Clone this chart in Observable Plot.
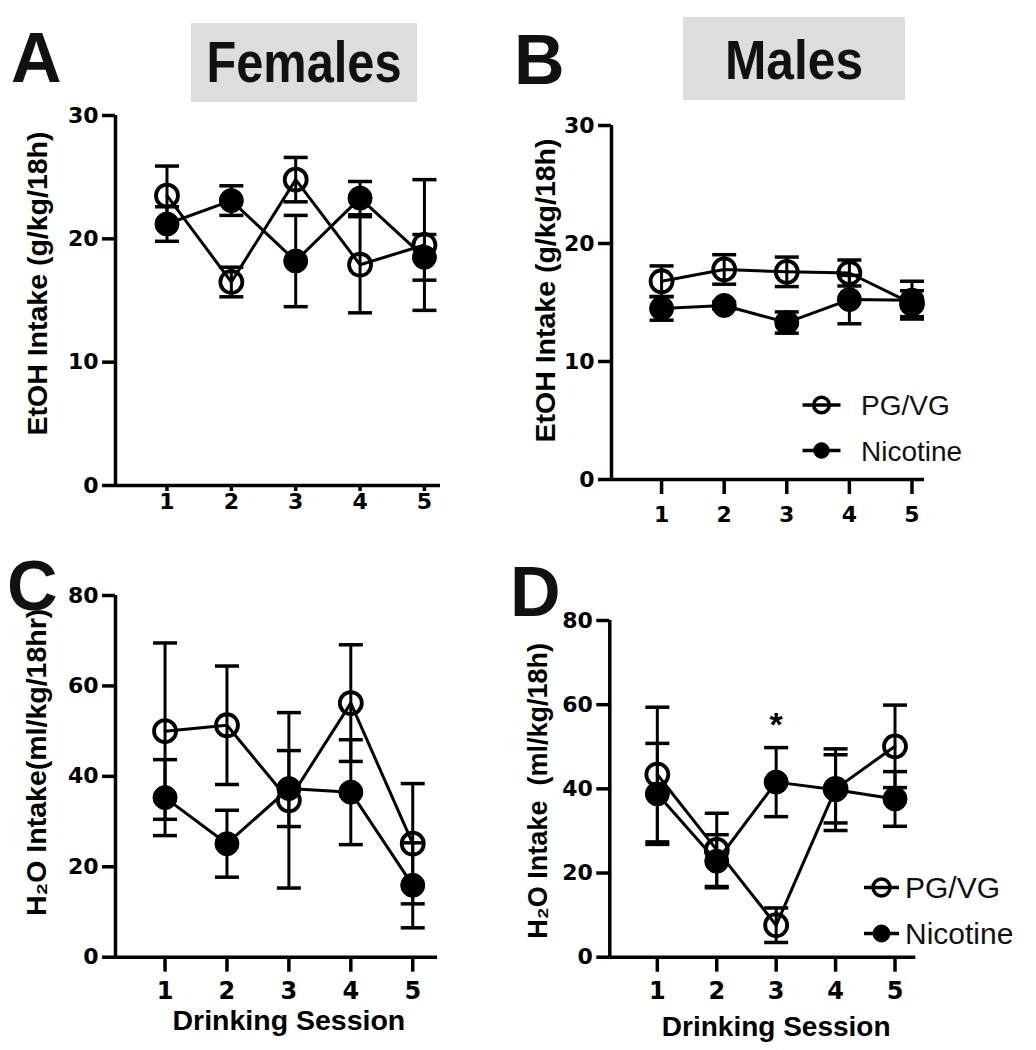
<!DOCTYPE html>
<html><head><meta charset="utf-8">
<script src="https://cdn.jsdelivr.net/npm/d3@7"></script>
<script src="https://cdn.jsdelivr.net/npm/@observablehq/plot@0.6"></script>
<style>
body{margin:0;background:#fff;}
#root{position:relative;width:1036px;height:1050px;overflow:hidden;background:#fff;font-family:"Liberation Sans",Arial,Helvetica,sans-serif;}
#root > svg{position:absolute;}
</style></head><body><div id="root"></div>
<script>
// ---- data ----
const sessions = [1, 2, 3, 4, 5];
const seriesNames = ["PG/VG", "Nicotine"];
const sessionLabel = "Drinking Session";

// A: Females EtOH intake (g/kg/18h)
const femEtohPG = [23.5, 16.5, 24.8, 17.9, 19.5];
const femEtohPGsem = [2.4, 1.2, 1.8, 3.9, 5.3];
const femEtohNic = [21.2, 23.1, 18.2, 23.3, 18.5];
const femEtohNicSem = [1.4, 1.2, 3.7, 1.35, 1.85];

// B: Males EtOH intake (g/kg/18h)
const maleEtohPG = [16.8, 17.8, 17.6, 17.5, 14.9];
const maleEtohPGsem = [1.3, 1.25, 1.25, 1.1, 1.1];
const maleEtohNic = [14.5, 14.75, 13.3, 15.25, 15.2];
const maleEtohNicSem = [1.0, 0.3, 0.9, 2.05, 1.6];

// C: Females H2O intake (ml/kg/18hr)
const femH2OPG = [50.0, 51.3, 34.7, 56.2, 25.1];
const femH2OPGsem = [19.5, 13.1, 19.4, 12.9, 13.3];
const femH2ONic = [35.3, 25.1, 37.3, 36.5, 15.9];
const femH2ONicSem = [8.4, 7.4, 8.4, 11.6, 9.4];

// D: Males H2O intake (ml/kg/18h)
const maleH2OPG = [43.4, 25.5, 7.6, 40.0, 50.1];
const maleH2OPGsem = [16.0, 8.7, 4.1, 8.1, 9.8];
const maleH2ONic = [38.8, 22.8, 41.6, 39.8, 37.6];
const maleH2ONicSem = [12.0, 6.3, 8.2, 9.7, 6.5];
const significantSessionsD = [3];

const etohTicks = [0, 10, 20, 30];
const h2oTicks = [0, 20, 40, 60, 80];

// ---- helpers ----
const rows = (ys, es) => sessions.map((x, i) => ({x, y: ys[i], e: es[i]}));
const cap = {draw(ctx) { ctx.moveTo(-12, 0); ctx.lineTo(12, 0); }};
const FONT = '"Liberation Sans", Arial, Helvetica, sans-serif';
const NUMFONT = '"DejaVu Sans", "Liberation Sans", sans-serif';

function seriesMarks(d, filled) {
  return [
    Plot.line(d, {x: "x", y: "y", stroke: "black", strokeWidth: 3}),
    Plot.ruleX(d, {x: "x", y1: r => r.y - r.e, y2: r => r.y + r.e, stroke: "black", strokeWidth: 3}),
    Plot.dot(d, {x: "x", y: r => r.y + r.e, symbol: cap, fill: "none", stroke: "black", strokeWidth: 3.5}),
    Plot.dot(d, {x: "x", y: r => r.y - r.e, symbol: cap, fill: "none", stroke: "black", strokeWidth: 3.5}),
    Plot.dot(d, {x: "x", y: "y", r: filled ? 12 : 11, fill: filled ? "black" : "none", stroke: "black", strokeWidth: filled ? 1 : 3.8})
  ];
}

function panel(c) {
  const yMax = c.yTicks[c.yTicks.length - 1];
  const x0 = c.xDomain[0];
  const marks = [
    Plot.ruleY([0], {x1: x0, x2: c.xDomain[1], stroke: "black", strokeWidth: 3.5}),
    Plot.ruleX([x0], {y1: 0, y2: yMax, stroke: "black", strokeWidth: 3.5}),
    Plot.axisY({ticks: c.yTicks, tickSize: 13, strokeWidth: 3.5, label: null, tickFormat: () => ""}),
    Plot.axisX({ticks: sessions, tickSize: c.xTickSize, strokeWidth: 3.5, label: null, tickFormat: () => ""}),
    Plot.text(c.yTicks, {x: () => x0, y: d => d, dx: -17, textAnchor: "end", lineAnchor: "middle", fontFamily: NUMFONT, fontSize: c.yTickFont, fontWeight: "bold", text: d => String(d)}),
    Plot.text(sessions, {x: d => d, frameAnchor: "bottom", dy: c.xTickDy, textAnchor: "middle", lineAnchor: "top", fontFamily: NUMFONT, fontSize: c.xTickFont, fontWeight: "bold", text: d => String(d)}),
    Plot.text([c.yLabel], {frameAnchor: "left", textAnchor: "middle", lineAnchor: "middle", rotate: -90, dx: c.yLabelDx, dy: c.yLabelDy, fontSize: c.yLabelFont, fontWeight: "bold"}),
    ...seriesMarks(rows(c.pg, c.pgSem), false),
    ...seriesMarks(rows(c.nic, c.nicSem), true),
    ...(c.extra || [])
  ];
  if (c.xLabel) marks.push(Plot.text([c.xLabel], {x: () => d3.median(sessions), frameAnchor: "bottom", textAnchor: "middle", lineAnchor: "middle", dy: c.xLabelDy, fontSize: c.xLabelFont, fontWeight: "bold"}));
  const svg = Plot.plot({
    width: c.width, height: c.height,
    marginLeft: c.mL, marginRight: c.mR, marginTop: c.mT, marginBottom: c.mB,
    x: {type: "linear", domain: c.xDomain, axis: null},
    y: {domain: [0, yMax], axis: null},
    style: {fontFamily: FONT, fontWeight: "bold", fontSize: "24px", color: "black", background: "transparent", overflow: "visible"},
    marks
  });
  svg.style.position = "absolute";
  svg.style.left = c.left + "px";
  svg.style.top = c.top + "px";
  return svg;
}

const root = document.getElementById("root");

root.appendChild(panel({
  left: 0, top: 100, width: 520, height: 430, mL: 115, mR: 80, mT: 15, mB: 45,
  xDomain: [0.2, 5.25], yTicks: etohTicks, yTickFont: 22, xTickFont: 22, xTickSize: 6, xTickDy: 8,
  yLabel: "EtOH Intake (g/kg/18h)", yLabelDx: -78, yLabelDy: -17, yLabelFont: 28.5,
  pg: femEtohPG, pgSem: femEtohPGsem, nic: femEtohNic, nicSem: femEtohNicSem
}));

root.appendChild(panel({
  left: 520, top: 100, width: 516, height: 430, mL: 91, mR: 112, mT: 25, mB: 51,
  xDomain: [0.2, 5.2], yTicks: etohTicks, yTickFont: 22, xTickFont: 22, xTickSize: 15, xTickDy: 27,
  yLabel: "EtOH Intake (g/kg/18h)", yLabelDx: -66, yLabelDy: -12, yLabelFont: 28.5,
  pg: maleEtohPG, pgSem: maleEtohPGsem, nic: maleEtohNic, nicSem: maleEtohNicSem
}));

root.appendChild(panel({
  left: 0, top: 560, width: 520, height: 490, mL: 115, mR: 83, mT: 35, mB: 93.3,
  xDomain: [0.2, 5.4], yTicks: h2oTicks, yTickFont: 22, xTickFont: 24, xTickSize: 15, xTickDy: 25,
  yLabel: "H₂O Intake(ml/kg/18hr)", yLabelDx: -79, yLabelDy: -14, yLabelFont: 28.5,
  xLabel: sessionLabel, xLabelDy: 64, xLabelFont: 28.5,
  pg: femH2OPG, pgSem: femH2OPGsem, nic: femH2ONic, nicSem: femH2ONicSem
}));

const nicD = rows(maleH2ONic, maleH2ONicSem);
root.appendChild(panel({
  left: 520, top: 560, width: 516, height: 490, mL: 89.3, mR: 120.7, mT: 60, mB: 93.3,
  xDomain: [0.2, 5.35], yTicks: h2oTicks, yTickFont: 22, xTickFont: 24, xTickSize: 15, xTickDy: 25,
  yLabel: "H₂O Intake  (ml/kg/18h)", yLabelDx: -71, yLabelDy: 2, yLabelFont: 27,
  xLabel: sessionLabel, xLabelDy: 70, xLabelFont: 28,
  pg: maleH2OPG, pgSem: maleH2OPGsem, nic: maleH2ONic, nicSem: maleH2ONicSem,
  extra: [Plot.text(nicD.filter(r => significantSessionsD.includes(r.x)), {x: "x", y: r => r.y + r.e, text: () => "*", dy: -22, fontSize: 34, fontWeight: "bold"})]
}));

// ---- overlay: panel letters, headers, legends ----
const ov = d3.select(root).append("svg")
  .attr("width", 1036).attr("height", 1050)
  .style("left", "0px").style("top", "0px")
  .style("font-family", FONT);

ov.append("rect").attr("x", 191).attr("y", 23).attr("width", 226).attr("height", 79).attr("fill", "#dddddf");
ov.append("rect").attr("x", 683).attr("y", 17).attr("width", 222).attr("height", 83).attr("fill", "#dddddf");
ov.append("text").attr("x", 304).attr("y", 82).attr("text-anchor", "middle").attr("font-size", 58).attr("font-weight", "bold")
  .attr("textLength", 195).attr("lengthAdjust", "spacingAndGlyphs").attr("fill", "#111").text("Females");
ov.append("text").attr("x", 794).attr("y", 79).attr("text-anchor", "middle").attr("font-size", 56).attr("font-weight", "bold")
  .attr("textLength", 138).attr("lengthAdjust", "spacingAndGlyphs").attr("fill", "#111").text("Males");

const letters = [["A", 11, 82], ["B", 514, 84], ["C", 7, 610], ["D", 510, 616]];
letters.forEach(([t, x, y]) => ov.append("text").attr("x", x).attr("y", y).attr("font-size", 70).attr("font-weight", "bold").attr("fill", "#111").text(t));

function legend(x0, y0, gap, r, lineHalf, textX, fs) {
  seriesNames.forEach((name, i) => {
    const y = y0 + i * gap;
    ov.append("line").attr("x1", x0 - lineHalf).attr("x2", x0 + lineHalf).attr("y1", y).attr("y2", y).attr("stroke", "black").attr("stroke-width", 3.5);
    ov.append("circle").attr("cx", x0).attr("cy", y).attr("r", r)
      .attr("fill", i ? "black" : "none").attr("stroke", "black").attr("stroke-width", i ? 1 : 3.5);
    ov.append("text").attr("x", textX).attr("y", y + fs * 0.36).attr("font-size", fs).attr("fill", "#111").text(name);
  });
}
legend(821.5, 405, 45.5, 7.8, 19, 861, 28);
legend(881.5, 887.5, 46, 8.5, 17.5, 905, 30);
</script>
</body></html>
